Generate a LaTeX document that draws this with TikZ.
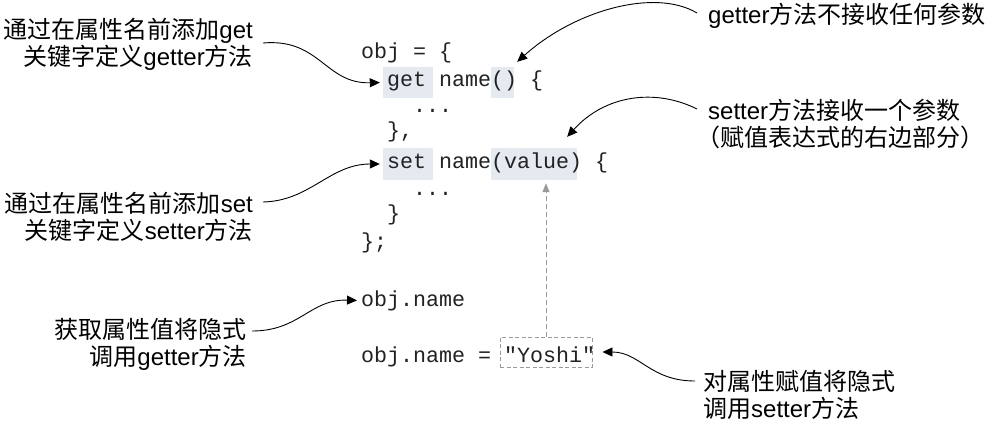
\documentclass[tikz,border=0pt]{standalone}
\usepackage{fontspec}
\setmainfont{Liberation Sans}
\setmonofont{Liberation Mono}
\newfontfamily\cjk{Noto Sans CJK SC}
\usetikzlibrary{arrows.meta}
\definecolor{hlfill}{HTML}{E4EAF0}
\definecolor{dashgray}{HTML}{9A9A9A}
\definecolor{codeink}{HTML}{222222}
\begin{document}
\begin{tikzpicture}[x=1pt,y=-1pt,
  code/.style={anchor=base west, inner sep=0pt, text=codeink, font=\ttfamily\fontsize{21.67}{26}\selectfont},
  hl/.style={fill=hlfill, inner sep=0pt, draw=none},
  lbl/.style={inner sep=0pt, font=\fontsize{24}{27}\selectfont},
  callout/.style={-{Triangle[length=10pt,width=9pt]}, line width=0.9pt, black},
  grayarrow/.style={-{Triangle[length=9pt,width=7pt]}, line width=0.9pt, dashgray, dash pattern=on 5pt off 3pt},
  dashbox/.style={draw=dashgray, line width=0.9pt, dash pattern=on 4pt off 2.5pt, inner sep=0pt}
]
\useasboundingbox[fill=white] (0,0) rectangle (992,426);

% highlight boxes
\node[hl, minimum width=50pt, minimum height=31pt] (getbox) at (408,82.5) {};
\node[hl, minimum width=23pt, minimum height=31pt] (parbox) at (502.5,82.5) {};
\node[hl, minimum width=50pt, minimum height=32pt] (setbox) at (408,164) {};
\node[hl, minimum width=86pt, minimum height=32pt] (valbox) at (534,164) {};

% code
\node[code] (c1) at (361,58) {obj = \{};
\node[code] (c2) at (387,86) {get name() \{};
\node[code] (c3) at (413,112) {...};
\node[code] (c4) at (387,137) {\},};
\node[code] (c5) at (387,168) {set name(value) \{};
\node[code] (c6) at (413,195) {...};
\node[code] (c7) at (387,220) {\}};
\node[code] (c8) at (361,248) {\};};
\node[code] (c9) at (361,306) {obj.name};
\node[code] (c10) at (361,362) {obj.name = "Yoshi"};
\node[dashbox, minimum width=92pt, minimum height=30pt] (yoshi) at (546,352) {};

% labels
\node[lbl, anchor=east, align=right] (L1) at (253,44) {{\cjk 通过在属性名前添加}get\\{\cjk 关键字定义}getter{\cjk 方法}};
\node[lbl, anchor=east, align=right] (L2) at (253,217) {{\cjk 通过在属性名前添加}set\\{\cjk 关键字定义}setter{\cjk 方法}};
\node[lbl, anchor=east, align=right] (L3) at (247,344) {{\cjk 获取属性值将隐式}\\{\cjk 调用}getter{\cjk 方法}};
\node[lbl, anchor=west] (R1) at (708,16) {getter{\cjk 方法不接收任何参数}};
\node[lbl, anchor=west, align=left] (R2) at (708,124) {setter{\cjk 方法接收一个参数}\\\hspace*{-12pt}{\cjk （赋值表达式的右边部分）}};
\node[lbl, anchor=west, align=left] (R3) at (703,395) {{\cjk 对属性赋值将隐式}\\{\cjk 调用}setter{\cjk 方法}};

% connectors
\draw[callout] ([xshift=10pt,yshift=1pt]L1.east) .. controls (320,38) and (325,84) .. ([xshift=-3pt]getbox.west);
\draw[callout] ([xshift=10pt,yshift=15pt]L2.east) .. controls (310,201) and (330,164) .. ([xshift=-3pt]setbox.west);
\draw[callout] ([xshift=5pt,yshift=13pt]L3.east) .. controls (300,331) and (310,299) .. ([xshift=-4pt]c9.west);
\draw[callout] ([xshift=-8pt,yshift=14pt]R3.west) .. controls (650,381) and (640,352) .. ([xshift=10pt]yoshi.east);
\draw[callout] ([xshift=-11pt,yshift=3pt]R1.west) .. controls (655,-12) and (575,10) .. ([xshift=3pt,yshift=5pt]parbox.north east);
\draw[callout] ([xshift=-11pt,yshift=15pt]R2.west) .. controls (655,88) and (605,95) .. ([xshift=-10pt,yshift=11pt]valbox.north east);
\draw[grayarrow, shorten >=3pt] (yoshi.north) -- (yoshi.north |- valbox.south);
\end{tikzpicture}
\end{document}
